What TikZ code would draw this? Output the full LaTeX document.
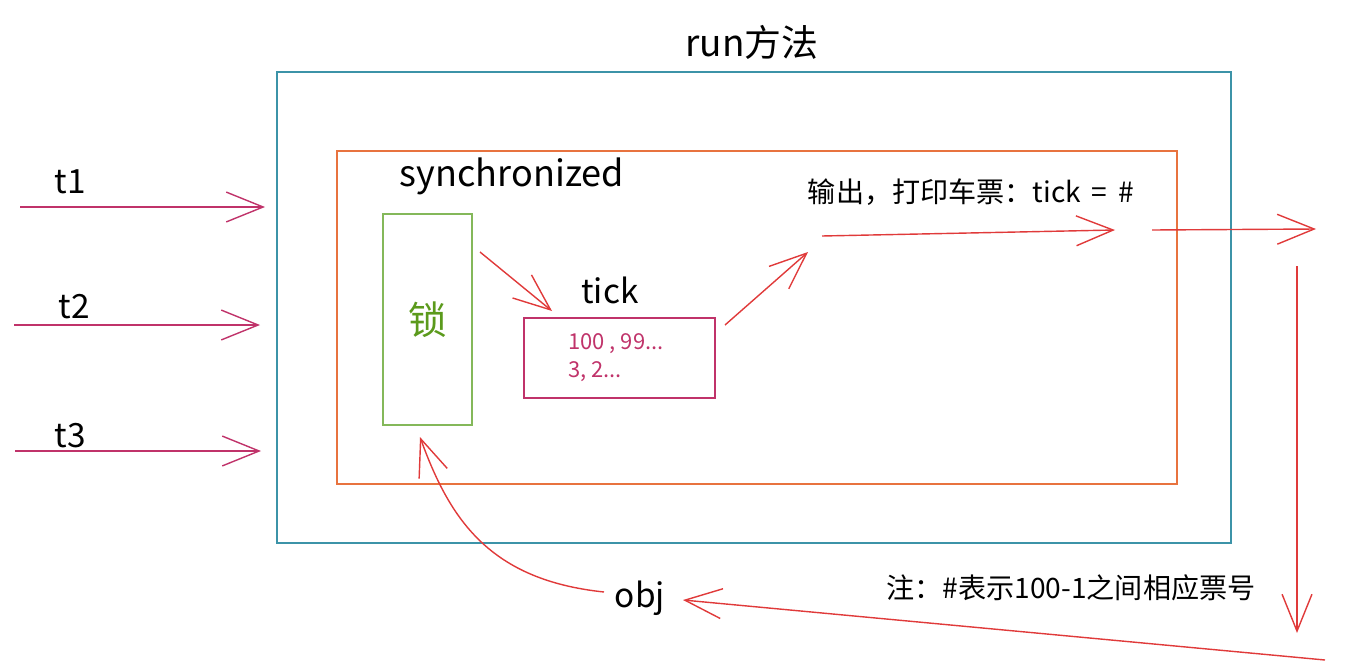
\documentclass[tikz,border=0pt]{standalone}
\usepackage{fontspec}
\setmainfont{Noto Sans CJK SC}
\usetikzlibrary{arrows.meta}
\definecolor{runteal}{HTML}{3C93A8}
\definecolor{syncorange}{HTML}{E8733F}
\definecolor{lockgreen}{HTML}{84B85A}
\definecolor{lockgreentext}{HTML}{5B9A1C}
\definecolor{tickred}{HTML}{C0336A}
\definecolor{flowred}{HTML}{E03A3A}
\tikzset{
    frame/.style={draw, line width=0.8pt, inner sep=0pt},
    runbox/.style={frame, draw=runteal, minimum width=19.08cm, minimum height=9.42cm},
    syncbox/.style={frame, draw=syncorange, minimum width=16.8cm, minimum height=6.66cm},
    lockbox/.style={frame, draw=lockgreen, minimum width=1.78cm, minimum height=4.22cm,
                    text=lockgreentext, font=\fontsize{22}{24}\selectfont},
    tickbox/.style={frame, draw=tickred, minimum width=3.82cm, minimum height=1.6cm},
    handtext/.style={font=\fontsize{19}{22}\selectfont, inner sep=1pt},
    notetext/.style={font=\fontsize{16}{19}\selectfont, inner sep=1pt},
    ticktext/.style={font=\fontsize{12.5}{16}\selectfont, text=tickred, align=left, inner sep=0pt},
}
\tikzset{
    flow/.style={-{Straight Barb[length=21pt,width=17pt]}, line width=0.8pt, draw=flowred},
    threadflow/.style={flow, draw=tickred},
}

\begin{document}
\begin{tikzpicture}[x=0.02cm,y=-0.02cm]
    \path[use as bounding box] (0,0) rectangle (1348,666);

    \node[handtext, font=\fontsize{21}{24}\selectfont] (title) at (752,42) {run方法};
    \node[runbox] (run) at (754,307.5) {};
    \node[syncbox] (sync) at (757,317.5) {};
    \node[handtext, font=\fontsize{20.5}{24}\selectfont] (synclabel) at (512,176) {synchronized};
    \node[lockbox] (lock) at (427.5,319.5) {锁};
    \node[handtext] (ticklabel) at (610,290) {tick};
    \node[tickbox] (tick) at (619.5,358) {};
    \node[ticktext, anchor=west] (ticknums) at (568,358) {100 , 99...\\3, 2...};
    \node[notetext] (print) at (971,192) {输出，打印车票：tick \,=\, \#};
    \node[handtext] (obj) at (640,598) {obj};
    \node[notetext] (note) at (1071,588) {注：\#表示100-1之间相应票号};

    \foreach \i/\y/\xs/\xe/\lx/\ly in {1/207/20/265/70/182,2/325/14/260/74/307,3/451/15/261/70/436} {
        \node[handtext] (t\i) at (\lx,\ly) {t\i};
        \coordinate (tstart\i) at (\xs,\y);
        \coordinate (tend\i) at (\xe,\y);
        \draw[threadflow] (tstart\i) -- (tend\i);
    }

    \coordinate (lockout) at (480,252);
    \coordinate (tickin) at (552,311);
    \coordinate (tickout) at (725,325);
    \coordinate (printin) at (808,252);
    \coordinate (printstart) at (822,236);
    \coordinate (printend) at (1115,230);
    \coordinate (exitstart) at (1152,230);
    \coordinate (exitend) at (1316,229);
    \coordinate (downstart) at (1297,266);
    \coordinate (downend) at (1297,633);
    \coordinate (backstart) at (1325,660);
    \coordinate (objin) at (683,600);
    \coordinate (objout) at (604,592);
    \coordinate (lockin) at (420,437);

    \draw[flow] (lockout) -- (tickin);
    \draw[flow] (tickout) -- (printin);
    \draw[flow] (printstart) -- (printend);
    \draw[flow] (exitstart) -- (exitend);
    \draw[flow] (downstart) -- (downend);
    \draw[flow] (backstart) -- (objin);
    \draw[flow] (objout) .. controls (490,580) and (450,520) .. (lockin);
\end{tikzpicture}
\end{document}
